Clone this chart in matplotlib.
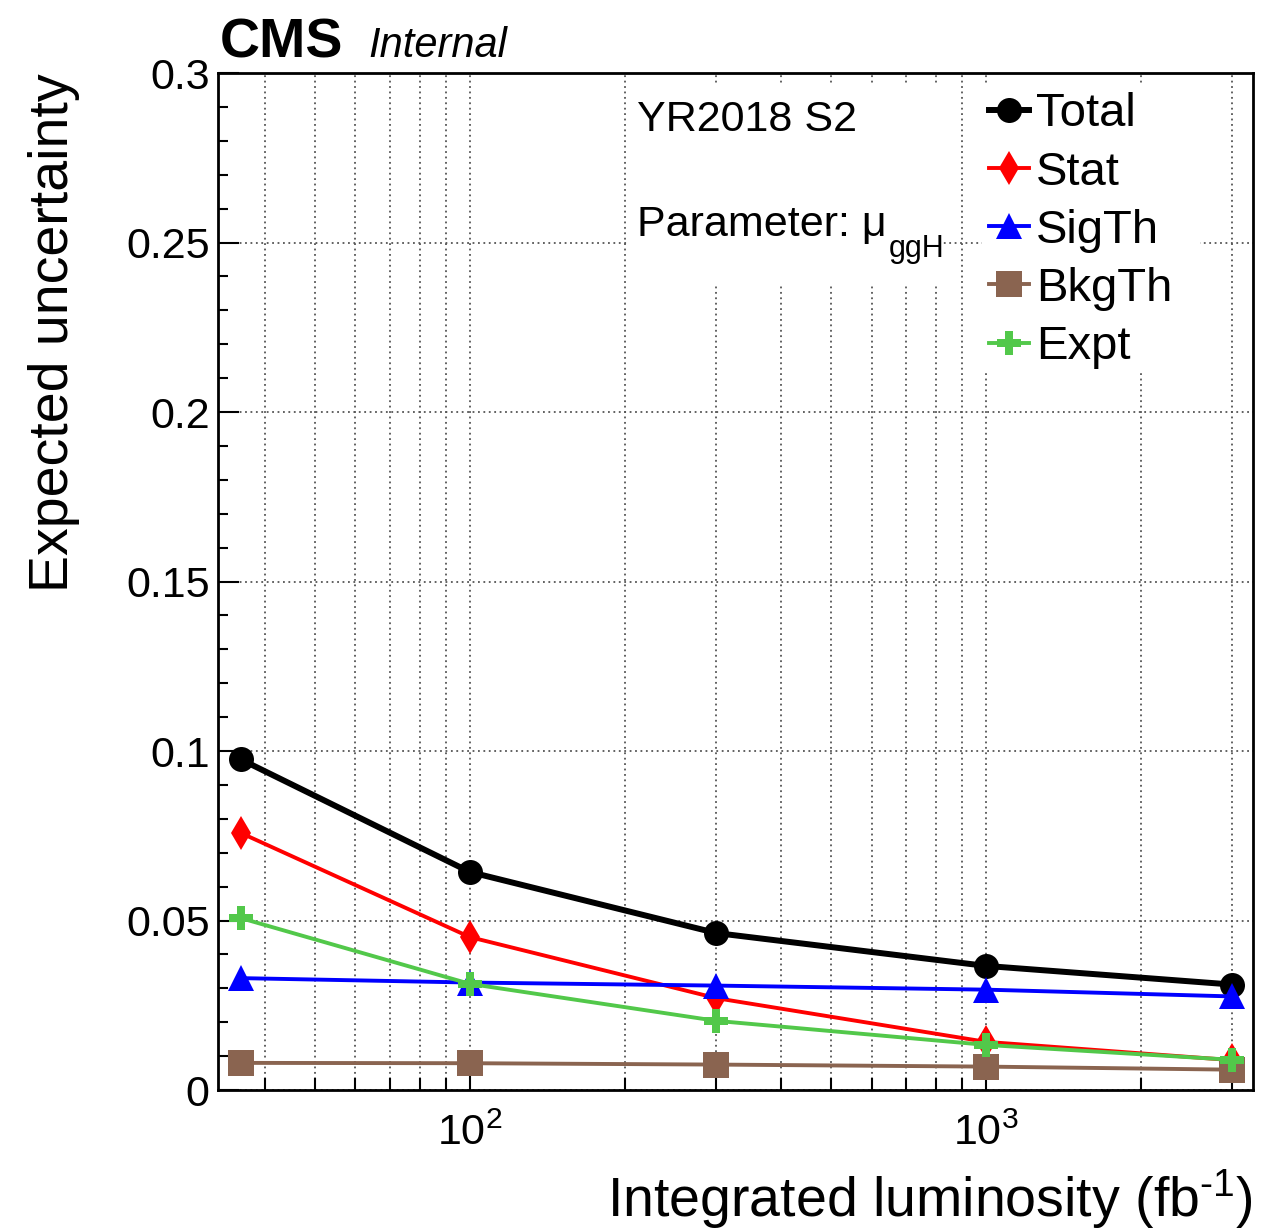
import matplotlib
matplotlib.use("Agg")
import matplotlib.pyplot as plt
from matplotlib.patches import Rectangle
from matplotlib.ticker import LogLocator, FixedLocator, NullFormatter

plt.rcParams["font.family"] = ["Liberation Sans", "DejaVu Sans"]
plt.rcParams["mathtext.fontset"] = "custom"
plt.rcParams["mathtext.rm"] = "Liberation Sans"
plt.rcParams["mathtext.it"] = "Liberation Sans:italic"
plt.rcParams["mathtext.default"] = "regular"

# integrated luminosity points (fb^-1)
lumi = [36, 100, 300, 1000, 3000]

# expected uncertainty on mu_ggH per source
total = [0.0975, 0.0643, 0.0463, 0.0366, 0.0311]
stat = [0.0758, 0.0451, 0.0271, 0.0142, 0.0088]
sigth = [0.0330, 0.0317, 0.0308, 0.0296, 0.0276]
bkgth = [0.0080, 0.0079, 0.0075, 0.0069, 0.0060]
expt = [0.0507, 0.0313, 0.0204, 0.0133, 0.0089]

series = [
    ("Total", total, "black", "o", 18, 4.3),
    ("Stat", stat, "#ff0000", "d", 17, 2.8),
    ("SigTh", sigth, "#0000ff", "^", 19, 2.8),
    ("BkgTh", bkgth, "#8a6450", "s", 19, 2.8),
    ("Expt", expt, "#52c84a", "P", 17, 2.8),
]

fig = plt.figure(figsize=(12.61, 12.29), dpi=100)
ax = fig.add_axes([0.1729, 0.1131, 0.9937 - 0.1729, 0.9406 - 0.1131])

handles = []
for name, values, color, marker, ms, lw in series:
    (h,) = ax.plot(lumi, values, color=color, marker=marker, markersize=ms,
                   linewidth=lw, markeredgewidth=0, label=name, zorder=3,
                   clip_on=False)
    handles.append(h)

ax.set_xscale("log")
ax.set_xlim(32.5, 3290)
ax.set_ylim(0, 0.3)
ax.yaxis.set_major_locator(FixedLocator([0, 0.05, 0.1, 0.15, 0.2, 0.25, 0.3]))
ax.yaxis.set_minor_locator(FixedLocator([i * 0.01 for i in range(31)]))
ax.set_yticklabels(["0", "0.05", "0.1", "0.15", "0.2", "0.25", "0.3"])
ax.xaxis.set_major_locator(LogLocator(base=10))
ax.xaxis.set_minor_locator(LogLocator(base=10, subs=range(2, 10)))
ax.xaxis.set_minor_formatter(NullFormatter())

ax.tick_params(which="both", direction="in", labelsize=31, top=False, right=False, width=1.5)
ax.tick_params(axis="y", which="major", length=15, pad=6)
ax.tick_params(axis="y", which="minor", length=7.5)
ax.tick_params(axis="x", which="major", length=15, pad=17)
ax.tick_params(axis="x", which="minor", length=9)

ax.set_axisbelow(True)
ax.grid(True, which="major", axis="y", color="#555555", linestyle=(0, (1, 2)), linewidth=1.3)
ax.grid(True, which="both", axis="x", color="#555555", linestyle=(0, (1, 2)), linewidth=1.3)
for spine in ax.spines.values():
    spine.set_linewidth(2.0)
    spine.set_zorder(4)

# white panes behind the text and legend, as in the ROOT canvas
ax.add_patch(Rectangle((0.396, 0.7915), 0.302, 0.1985, transform=ax.transAxes,
                       facecolor="white", edgecolor="none", zorder=1))
ax.add_patch(Rectangle((0.738, 0.705), 0.211, 0.285, transform=ax.transAxes,
                       facecolor="white", edgecolor="none", zorder=1))

ax.text(0.405, 0.954, "YR2018 S2", transform=ax.transAxes, fontsize=31,
        ha="left", va="center", zorder=2)
param = ax.text(0.405, 0.840, "Parameter: μ", transform=ax.transAxes,
                fontsize=31, ha="left", va="baseline", zorder=2)
ax.annotate("ggH", xy=(1, 0), xycoords=param, xytext=(1.5, -9),
            textcoords="offset points", fontsize=22, ha="left", va="baseline",
            zorder=2)

leg = ax.legend(handles=handles, loc="upper left", bbox_to_anchor=(0.721, 1.005),
                frameon=False, fontsize=34, handlelength=0.85, handletextpad=0.15,
                labelspacing=0.3, borderaxespad=0.12)
leg.set_zorder(5)

ax.set_xlabel(r"Integrated luminosity (fb$^{\text{-1}}$)", fontsize=40, loc="right")
ax.xaxis.set_label_coords(1.0, -0.076)
ax.set_ylabel("Expected uncertainty", fontsize=40, loc="top")
ax.yaxis.set_label_coords(-0.133, 1.0)

fig.text(0.1745, 0.9536, "CMS", fontsize=40, fontweight="bold", ha="left", va="baseline")
fig.text(0.292, 0.9536, "Internal", fontsize=30, fontstyle="italic", ha="left", va="baseline")

fig.savefig("out.png", dpi=100)
